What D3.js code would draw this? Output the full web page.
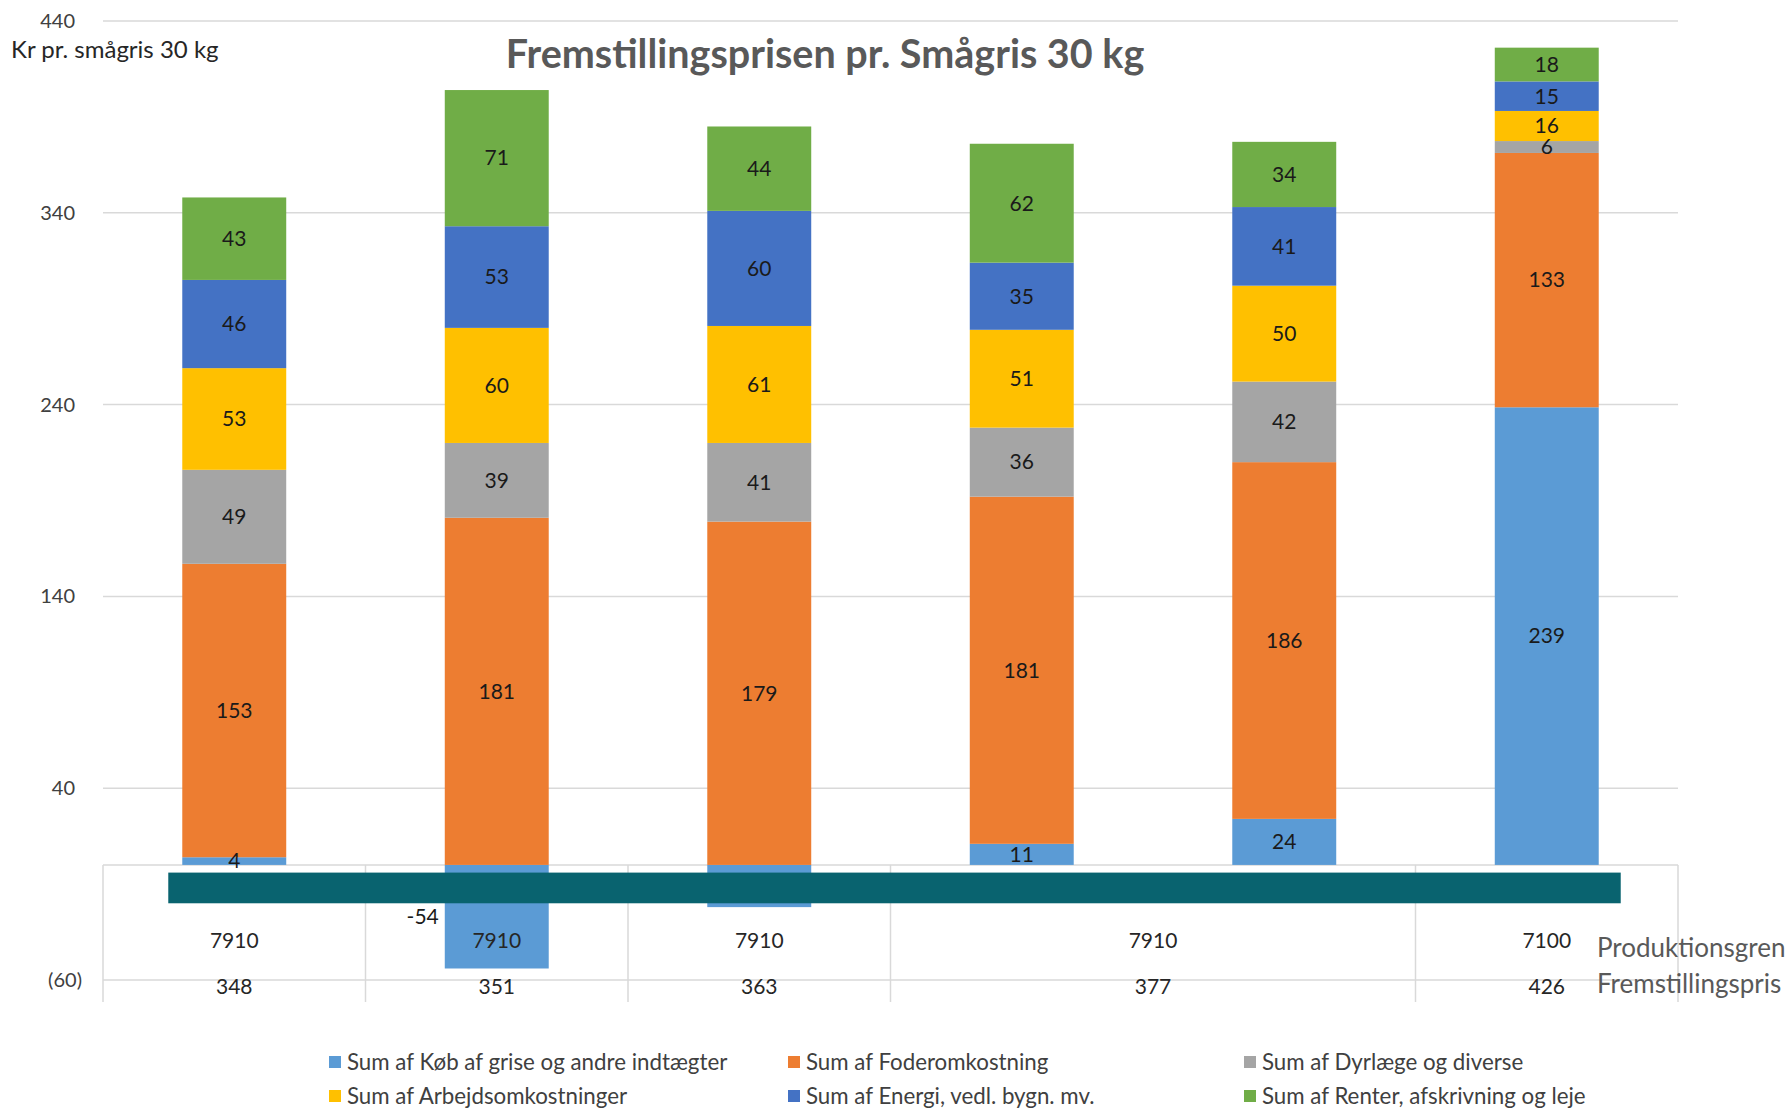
<!DOCTYPE html>
<html>
<head>
<meta charset="utf-8">
<script src="https://cdn.jsdelivr.net/npm/d3@7"></script>
<style>
  body { margin: 0; background: #fff; }
  svg { display: block; }
  text { font-family: Lato, "Open Sans", sans-serif; }
</style>
</head>
<body>
<svg id="chart" width="1790" height="1108"></svg>
<script>
// bars (one per pivot row), and the two-level category axis under them
const barIds = ["b1", "b2", "b3", "b4", "b5", "b6"];
const groupSize = [1, 1, 1, 2, 1];
const groupProd = ["7910", "7910", "7910", "7910", "7100"];
const groupPris = ["348", "351", "363", "377", "426"];
const axisRowNames = ["Produktionsgren", "Fremstillingspris"];

const seriesNames = [
  "Sum af Køb af grise og andre indtægter",
  "Sum af Foderomkostning",
  "Sum af Dyrlæge og diverse",
  "Sum af Arbejdsomkostninger",
  "Sum af Energi, vedl. bygn. mv.",
  "Sum af Renter, afskrivning og leje"
];
const kob      = [4, -54, -22, 11, 24, 238.6];
const foder    = [153, 181, 179, 181, 186, 132.6];
const dyrlaege = [49, 39, 41, 36, 42, 6.2];
const arbejde  = [53, 60, 61, 51, 50, 15.7];
const energi   = [46, 53, 60, 35, 41, 15.4];
const renter   = [43, 71, 44, 62, 34, 17.6];

const yTicks = [440, 340, 240, 140, 40, -60];

const colors = ["#5B9BD5", "#ED7D31", "#A5A5A5", "#FFC000", "#4472C4", "#70AD47"];

// build the table d3.stack wants
const allSeries = [kob, foder, dyrlaege, arbejde, energi, renter];
const table = barIds.map((id, i) => {
  const row = { id: id };
  seriesNames.forEach((s, j) => { row[s] = allSeries[j][i]; });
  return row;
});

const svg = d3.select("#chart");

var x = d3.scaleBand().domain(barIds).range([103, 1678]).paddingInner(0.604).paddingOuter(0.302);
var y = d3.scaleLinear().domain([-60, 440]).range([980, 21]);
const gridColor = "#D9D9D9";
const left = x.range()[0], right = x.range()[1];

// gridlines
svg.append("g").selectAll("line").data(yTicks).join("line")
  .attr("x1", left).attr("x2", right)
  .attr("y1", d => y(d)).attr("y2", d => y(d))
  .attr("stroke", gridColor).attr("stroke-width", 1.5);

// y tick labels, negative in parentheses
svg.append("g").selectAll("text").data(yTicks).join("text")
  .attr("x", d => d < 0 ? 82 : 75)
  .attr("y", d => y(d))
  .attr("dy", "0.35em")
  .attr("text-anchor", "end")
  .attr("font-size", 20)
  .attr("fill", "#404040")
  .text(d => d < 0 ? "(" + (-d) + ")" : d);

// axis line at zero and the category table
svg.append("line")
  .attr("x1", left).attr("x2", right)
  .attr("y1", y(0)).attr("y2", y(0))
  .attr("stroke", gridColor).attr("stroke-width", 1.5);

const step = x.step();
const starts = [0];
groupSize.forEach(n => starts.push(starts[starts.length - 1] + n));
svg.append("g").selectAll("line").data(starts).join("line")
  .attr("x1", d => left + d * step).attr("x2", d => left + d * step)
  .attr("y1", y(0)).attr("y2", 1002)
  .attr("stroke", gridColor).attr("stroke-width", 1.5);

// stacked bars
var stack = d3.stack().keys(seriesNames).offset(d3.stackOffsetDiverging);
var stacked = stack(table);

const layers = svg.append("g").selectAll("g").data(stacked).join("g")
  .attr("fill", (d, i) => colors[i]);
layers.selectAll("rect").data(d => d).join("rect")
  .attr("x", d => x(d.data.id))
  .attr("width", x.bandwidth())
  .attr("y", d => y(d[1]))
  .attr("height", d => y(d[0]) - y(d[1]));

// data labels, centred in each segment (plain hyphen for negatives, like Excel)
const labels = [];
stacked.forEach(s => s.forEach(d => {
  labels.push({ id: d.data.id, v: d.data[s.key], mid: (d[0] + d[1]) / 2 });
}));
svg.append("g").selectAll("text").data(labels).join("text")
  .attr("x", d => d.v < -30 ? x(d.id) - 6 : x(d.id) + x.bandwidth() / 2)
  .attr("y", d => y(d.mid))
  .attr("dy", "0.35em")
  .attr("text-anchor", d => d.v < -30 ? "end" : "middle")
  .attr("font-size", 21)
  .attr("fill", "#1a1a1a")
  .text(d => String(Math.round(d.v)));

// the dark band drawn over the chart in the original
svg.append("rect")
  .attr("x", x(barIds[0]) - 14)
  .attr("width", x(barIds[barIds.length - 1]) + x.bandwidth() + 22 - (x(barIds[0]) - 14))
  .attr("y", y(-4))
  .attr("height", y(-20) - y(-4))
  .attr("fill", "#09636F");

// category axis labels
const groupCenters = groupSize.map((n, i) => left + (starts[i] + n / 2) * step);
svg.append("g").selectAll("text").data(groupProd).join("text")
  .attr("x", (d, i) => groupCenters[i]).attr("y", 941).attr("dy", "0.35em")
  .attr("text-anchor", "middle").attr("font-size", 21).attr("fill", "#262626")
  .text(d => d);
svg.append("g").selectAll("text").data(groupPris).join("text")
  .attr("x", (d, i) => groupCenters[i]).attr("y", 987).attr("dy", "0.35em")
  .attr("text-anchor", "middle").attr("font-size", 21).attr("fill", "#262626")
  .text(d => d);
svg.append("g").selectAll("text").data(axisRowNames).join("text")
  .attr("x", 1597).attr("y", (d, i) => 948 + i * 36).attr("dy", "0.35em")
  .attr("font-size", 26).attr("fill", "#595959")
  .text(d => d);

// titles
svg.append("text")
  .attr("x", 825).attr("y", 54).attr("dy", "0.35em")
  .attr("text-anchor", "middle")
  .attr("font-size", 39.5).attr("font-weight", "bold").attr("fill", "#595959")
  .text("Fremstillingsprisen pr. Smågris 30 kg");
svg.append("text")
  .attr("x", 11).attr("y", 50).attr("dy", "0.35em")
  .attr("font-size", 24).attr("fill", "#262626")
  .text("Kr pr. smågris 30 kg");

// legend, 3 columns x 2 rows
const legendX = [329, 788, 1244];
const legendY = [1062, 1096];
const legend = svg.append("g").selectAll("g").data(seriesNames).join("g")
  .attr("transform", (d, i) => `translate(${legendX[i % 3]},${legendY[Math.floor(i / 3)]})`);
legend.append("rect")
  .attr("x", 0).attr("y", -6).attr("width", 12).attr("height", 12)
  .attr("fill", (d, i) => colors[i]);
legend.append("text")
  .attr("x", 18).attr("dy", "0.35em")
  .attr("font-size", 22.3).attr("fill", "#404040")
  .text(d => d);
</script>
</body>
</html>
